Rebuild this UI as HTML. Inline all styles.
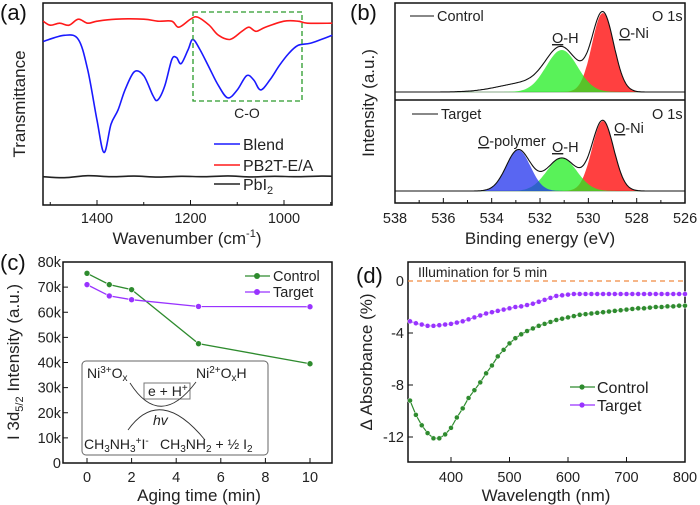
<!DOCTYPE html>
<html><head><meta charset="utf-8"><style>
body{margin:0;background:#fff}
svg{display:block;font-family:"Liberation Sans",Arial,sans-serif}
.t{font-size:14.5px;fill:#222}
.s{font-size:14px;fill:#222}
.g{font-size:16px;fill:#222}
.l{font-size:17px;fill:#222}
.p{font-size:22px;fill:#111}
</style></head><body>
<svg id="fig" width="700" height="505" viewBox="0 0 700 505" xmlns="http://www.w3.org/2000/svg">
<g id="ga"></g>
<g id="gb"></g>
<g id="gc"></g>
<g id="gd"></g>
</svg>
<script>
// ---- Panel (a) FTIR data ----
const blendWn = [1515,1470,1440,1420,1400,1385,1370,1355,1340,1320,1300,1280,1270,1255,1240,1230,1220,1205,1195,1180,1160,1140,1120,1100,1080,1065,1050,1030,1010,990,970,945,920,897];
const blendT  = [81,84,82,67,42,26,40,47,57,66,64,54,52,59,72,73,70,77,82,77,68,59,53,57,64,62,57,62,69,75,79,80,82,84];
const pbWn = [1515,1500,1480,1460,1440,1420,1400,1360,1300,1270,1240,1225,1200,1185,1160,1140,1115,1090,1075,1060,1040,1000,970,950,897];
const pbT  = [91,89,90,89,92,90,91,92,92,91,91,88,92,93,89,84,82,86,88,86,88,91,91,90,90];
const pbi2Wn = [1515,1470,1420,1370,1320,1270,1220,1170,1120,1070,1020,970,920,897];
const pbi2T  = [14,13.5,14.5,14,14.3,13.8,14.2,14,14.4,13.9,14.2,14,14.3,14.2];
const aTicks = [1400,1200,1000];
// ---- Panel (b) XPS peak fits ----
const ctrlCenters=[529.4,531.1,532.6], ctrlHeights=[79,42,9], ctrlSigmas=[0.45,0.65,1.1];
const tgtCenters=[529.4,531.1,532.9], tgtHeights=[70,33,41], tgtSigmas=[0.45,0.62,0.5];
const bTicks=[538,536,534,532,530,528,526];
// ---- Panel (c) ----
const cTime=[0,1,2,5,10];
const cControl=[75.5,71,69,47.5,39.5];
const cTarget=[71,66.5,65,62.3,62.2];
const cYTicks=[0,10,20,30,40,50,60,70,80];
const cXTicks=[0,2,4,6,8,10];
// ---- Panel (d) ----
const dWl=[330,340,350,360,370,380,390,400,410,420,430,440,450,460,470,480,490,500,510,520,530,540,550,560,570,580,590,600,610,620,630,640,650,660,670,680,690,700,710,720,730,740,750,760,770,780,790,800];
const dControl=[-9.2,-10.3,-11.1,-11.7,-12.1,-12.1,-11.8,-11.3,-10.5,-9.8,-9.0,-8.4,-7.8,-7.1,-6.5,-5.8,-5.3,-4.8,-4.4,-4.1,-3.85,-3.65,-3.45,-3.3,-3.15,-3.0,-2.9,-2.8,-2.7,-2.6,-2.55,-2.5,-2.45,-2.4,-2.35,-2.3,-2.25,-2.2,-2.15,-2.1,-2.1,-2.05,-2.0,-2.0,-1.95,-1.95,-1.9,-1.9];
const dTarget=[-3.1,-3.25,-3.35,-3.45,-3.45,-3.4,-3.35,-3.3,-3.2,-3.1,-2.95,-2.8,-2.65,-2.5,-2.4,-2.3,-2.2,-2.1,-2.0,-1.95,-1.85,-1.75,-1.6,-1.45,-1.3,-1.15,-1.1,-1.05,-1.0,-1.0,-1.0,-1.0,-1.0,-1.0,-1.0,-1.0,-1.0,-1.0,-1.0,-1.0,-1.0,-1.0,-1.0,-1.0,-1.0,-1.0,-1.0,-1.0];
const dYTicks=[0,-4,-8,-12];
const dXTicks=[400,500,600,700,800];

const NS="http://www.w3.org/2000/svg";
function mk(parent,tag,attrs,txt){const e=document.createElementNS(NS,tag);for(const k in attrs)e.setAttribute(k,attrs[k]);if(txt!==undefined)e.textContent=txt;parent.appendChild(e);return e;}
function smooth(pts){let d="M"+pts[0][0].toFixed(1)+","+pts[0][1].toFixed(1);for(let i=0;i<pts.length-1;i++){const p0=pts[i-1]||pts[i],p1=pts[i],p2=pts[i+1],p3=pts[i+2]||p2;const c1=[p1[0]+(p2[0]-p0[0])/6,p1[1]+(p2[1]-p0[1])/6],c2=[p2[0]-(p3[0]-p1[0])/6,p2[1]-(p3[1]-p1[1])/6];d+="C"+c1[0].toFixed(1)+","+c1[1].toFixed(1)+" "+c2[0].toFixed(1)+","+c2[1].toFixed(1)+" "+p2[0].toFixed(1)+","+p2[1].toFixed(1);}return d;}

// ===== Panel A =====
(function(){
const g=document.getElementById('ga');
const X0=43,X1=332,Y0=3,Y1=205;
const xs=w=>97+(1400-w)*0.4675, ys=v=>205-v*2.02;
let e;
e=mk(g,'rect',{x:X0,y:Y0,width:X1-X0,height:Y1-Y0,fill:'none',stroke:'#111','stroke-width':1.5});

aTicks.forEach(t=>{mk(g,'line',{x1:xs(t),x2:xs(t),y1:Y1,y2:Y1-5,stroke:'#111'});
e=mk(g,'text',{x:xs(t),y:223,'text-anchor':'middle',class:'t'},t);});
[1500,1300,1100,900].forEach(t=>mk(g,'line',{x1:xs(t),x2:xs(t),y1:Y1,y2:Y1-3,stroke:'#111'}));
const series=[[blendWn,blendT,'#1a1aff','blend-spectrum'],[pbWn,pbT,'#ff1a1a','pb2t-spectrum'],[pbi2Wn,pbi2T,'#222','pbi2-spectrum']];
series.forEach(s=>{e=mk(g,'path',{d:smooth(s[0].map((w,i)=>[xs(w),ys(s[1][i])])),fill:'none',stroke:s[2],'stroke-width':1.6});});
e=mk(g,'rect',{x:193,y:12,width:109,height:89,fill:'none',stroke:'#2a9a2a','stroke-width':1.3,'stroke-dasharray':'5,3'});
e=mk(g,'text',{x:247,y:118,'text-anchor':'middle',class:'s'},'C-O');
const leg=[['Blend','#1a1aff',144],['PB2T-E/A','#ff1a1a',165],['PbI',"#222",184]];
leg.forEach((l,i)=>{mk(g,'line',{x1:214,x2:240,y1:l[2],y2:l[2],stroke:l[1],'stroke-width':1.6});
e=mk(g,'text',{x:243,y:l[2]+6,class:'g'},l[0]);
if(i==2){mk(e,'tspan',{'font-size':'11','dy':'4'},'2');}});
e=mk(g,'text',{x:0,y:0,class:'l',transform:'translate(25,104) rotate(-90)','text-anchor':'middle'},'Transmittance');
e=mk(g,'text',{x:187,y:244,'text-anchor':'middle',class:'l'},'Wavenumber (cm');mk(e,'tspan',{'font-size':'11',dy:'-7'},'-1');mk(e,'tspan',{dy:'7'},')');

e=mk(g,'text',{x:0,y:20,class:'p'},'(a)');
})();

// ===== Panel B =====
(function(){
const g=document.getElementById('gb');
const X0=395,X1=685;
const xs=b=>395+(538-b)*24.17;
let e;
e=mk(g,'rect',{x:X0,y:3,width:X1-X0,height:200,fill:'none',stroke:'#111','stroke-width':1.5});
mk(g,'line',{x1:X0,x2:X1,y1:100,y2:100,stroke:'#111','stroke-width':1.5});
bTicks.forEach(t=>{mk(g,'line',{x1:xs(t),x2:xs(t),y1:203,y2:198,stroke:'#111'});
e=mk(g,'text',{x:xs(t),y:223,'text-anchor':'middle',class:'t'},t);});
[537,535,533,531,529,527].forEach(t=>mk(g,'line',{x1:xs(t),x2:xs(t),y1:203,y2:200,stroke:'#111'}));
const gauss=(b,c,h,s)=>h*Math.exp(-0.5*((b-c)/s)**2);
function draw(centers,heights,sigmas,base,colors,fillN,nm){
 mk(g,'line',{x1:X0,x2:X1,y1:base,y2:base,stroke:'#8a8',"stroke-width":1});
 for(let k=0;k<fillN;k++){const pts=[];for(let b=538;b>=526;b-=0.05)pts.push([xs(b),base-gauss(b,centers[k],heights[k],sigmas[k])]);
  e=mk(g,'path',{d:'M'+pts.map(p=>p[0].toFixed(1)+','+p[1].toFixed(1)).join('L')+'Z',fill:colors[k],'fill-opacity':0.75,stroke:'none'});
  }
 const env=[];for(let b=538;b>=526;b-=0.05){let s=0;for(let k=0;k<centers.length;k++)s+=gauss(b,centers[k],heights[k],sigmas[k]);env.push([xs(b),base-s]);}
 e=mk(g,'path',{d:'M'+env.map(p=>p[0].toFixed(1)+','+p[1].toFixed(1)).join('L'),fill:'none',stroke:'#111','stroke-width':1.1});
 
}
draw(ctrlCenters,ctrlHeights,ctrlSigmas,92,['#ff0000','#22ee22'],2,'control');
draw(tgtCenters,tgtHeights,tgtSigmas,191,['#ff0000','#22ee22','#2233ee'],3,'target');
mk(g,'line',{x1:410,x2:434,y1:16,y2:16,stroke:'#111'});mk(g,'line',{x1:412,x2:438,y1:114,y2:114,stroke:'#111'});
function ul(x,y,rest,nm){e=mk(g,'text',{x:x,y:y,class:'t'});mk(e,'tspan',{'text-decoration':'underline'},'O');mk(e,'tspan',{},rest);}
e=mk(g,'text',{x:437,y:21,class:'t'},'Control');
e=mk(g,'text',{x:441,y:119,class:'t'},'Target');
e=mk(g,'text',{x:652,y:21,class:'t'},'O 1s');
e=mk(g,'text',{x:652,y:119,class:'t'},'O 1s');
ul(552,43,'-H','oh-label');ul(619,38,'-Ni','oni-label');
ul(478,146,'-polymer','opolymer-label');ul(552,152,'-H','oh-label');ul(614,133,'-Ni','oni-label');
e=mk(g,'text',{x:0,y:0,class:'l',transform:'translate(374,103) rotate(-90)','text-anchor':'middle'},'Intensity (a.u.)');
e=mk(g,'text',{x:540,y:244,'text-anchor':'middle',class:'l'},'Binding energy (eV)');
e=mk(g,'text',{x:350,y:20,class:'p'},'(b)');
})();

// ===== Panel C =====
(function(){
const g=document.getElementById('gc');
const X0=63,X1=332,Y0=262,Y1=463;
const xs=t=>87+t*22.3, ys=v=>463-v*2.5125;
let e;
e=mk(g,'rect',{x:X0,y:Y0,width:X1-X0,height:Y1-Y0,fill:'none',stroke:'#111','stroke-width':1.5});
cYTicks.forEach(t=>{mk(g,'line',{x1:X0,x2:X0+5,y1:ys(t),y2:ys(t),stroke:'#111'});
e=mk(g,'text',{x:61,y:ys(t)+5,'text-anchor':'end',class:'t'},t===0?'0':t+'k');});
cXTicks.forEach(t=>{mk(g,'line',{x1:xs(t),x2:xs(t),y1:Y1,y2:Y1-5,stroke:'#111'});
e=mk(g,'text',{x:xs(t),y:482,'text-anchor':'middle',class:'t'},t);});
[[cControl,'#2e8b2e','control'],[cTarget,'#9933ff','target']].forEach(s=>{
 e=mk(g,'polyline',{points:cTime.map((t,i)=>xs(t)+','+ys(s[0][i])).join(' '),fill:'none',stroke:s[1],'stroke-width':1.3});
 cTime.forEach((t,i)=>{e=mk(g,'circle',{cx:xs(t),cy:ys(s[0][i]),r:3,fill:s[1],stroke:'#fff','stroke-width':0.6});});
});
[['Control','#2e8b2e',276],['Target','#9933ff',292]].forEach(l=>{mk(g,'line',{x1:245,x2:270,y1:l[2],y2:l[2],stroke:l[1],'stroke-width':1.3});mk(g,'circle',{cx:257,cy:l[2],r:3,fill:l[1]});
 e=mk(g,'text',{x:273,y:l[2]+5,class:'t'},l[0]);});
// inset
e=mk(g,'rect',{x:82,y:361,width:186,height:94,rx:4,fill:'#fff',stroke:'#666','stroke-width':1});
e=mk(g,'text',{x:87,y:378,class:'s'},'Ni');mk(e,'tspan',{'font-size':'10',dy:'-5'},'3+');mk(e,'tspan',{dy:'5'},'O');mk(e,'tspan',{'font-size':'10',dy:'3'},'x');
e=mk(g,'text',{x:196,y:378,class:'s'},'Ni');mk(e,'tspan',{'font-size':'10',dy:'-5'},'2+');mk(e,'tspan',{dy:'5'},'O');mk(e,'tspan',{'font-size':'10',dy:'3'},'x');mk(e,'tspan',{dy:'-3'},'H');
mk(g,'rect',{x:144,y:383,width:46,height:16,fill:'#fff',stroke:'#777'});
e=mk(g,'text',{x:148,y:396,class:'s'},'e + H');mk(e,'tspan',{'font-size':'10',dy:'-5'},'+');
mk(g,'path',{d:'M130,383 Q160,430 196,382',fill:'none',stroke:'#333','stroke-width':0.9});
mk(g,'path',{d:'M128,430 Q160,385 205,440',fill:'none',stroke:'#333','stroke-width':0.9});
e=mk(g,'text',{x:153,y:425,class:'s','font-style':'italic'},'hv');
e=mk(g,'text',{x:84,y:449,class:'s'},'CH');mk(e,'tspan',{'font-size':'10',dy:'3'},'3');mk(e,'tspan',{dy:'-3'},'NH');mk(e,'tspan',{'font-size':'10',dy:'3'},'3');mk(e,'tspan',{'font-size':'10',dy:'-8'},'+');mk(e,'tspan',{dy:'5'},'I');mk(e,'tspan',{'font-size':'10',dy:'-5'},'-');
e=mk(g,'text',{x:160,y:449,class:'s'},'CH');mk(e,'tspan',{'font-size':'10',dy:'3'},'3');mk(e,'tspan',{dy:'-3'},'NH');mk(e,'tspan',{'font-size':'10',dy:'3'},'2');mk(e,'tspan',{dy:'-3'},' + ½ I');mk(e,'tspan',{'font-size':'10',dy:'3'},'2');
e=mk(g,'text',{x:0,y:0,class:'l',transform:'translate(19,362) rotate(-90)','text-anchor':'middle'},'I 3d');mk(e,'tspan',{'font-size':'11',dy:'4'},'5/2');mk(e,'tspan',{dy:'-4'},' Intensity (a.u.)');
e=mk(g,'text',{x:199,y:501,'text-anchor':'middle',class:'l'},'Aging time (min)');
e=mk(g,'text',{x:0,y:270,class:'p'},'(c)');
})();

// ===== Panel D =====
(function(){
const g=document.getElementById('gd');
const X0=408,X1=685,Y0=262,Y1=462;
const xs=w=>451+(w-400)*0.585, ys=v=>281-v*13;
let e;
e=mk(g,'rect',{x:X0,y:Y0,width:X1-X0,height:Y1-Y0,fill:'none',stroke:'#111','stroke-width':1.5});
dYTicks.forEach(t=>{mk(g,'line',{x1:X0,x2:X0+5,y1:ys(t),y2:ys(t),stroke:'#111'});
e=mk(g,'text',{x:404,y:ys(t)+5,'text-anchor':'end',class:'t'},t);});
dXTicks.forEach(t=>{mk(g,'line',{x1:xs(t),x2:xs(t),y1:Y1,y2:Y1-5,stroke:'#111'});
e=mk(g,'text',{x:xs(t),y:482,'text-anchor':'middle',class:'t'},t);});
e=mk(g,'line',{x1:X0,x2:X1,y1:ys(0),y2:ys(0),stroke:'#f08a40','stroke-width':1.2,'stroke-dasharray':'5,4'});
e=mk(g,'text',{x:418,y:277,class:'s'},'Illumination for 5 min');
[[dControl,'#2e8b2e','control'],[dTarget,'#9933ff','target']].forEach(s=>{
 e=mk(g,'polyline',{points:dWl.map((w,i)=>xs(w)+','+ys(s[0][i])).join(' '),fill:'none',stroke:s[1],'stroke-width':1.2});
 dWl.forEach((w,i)=>{e=mk(g,'circle',{cx:xs(w),cy:ys(s[0][i]),r:2.5,fill:s[1],stroke:'#fff','stroke-width':0.5});});
});
[['Control','#2e8b2e',387],['Target','#9933ff',405]].forEach(l=>{mk(g,'line',{x1:570,x2:595,y1:l[2],y2:l[2],stroke:l[1],'stroke-width':1.3});mk(g,'circle',{cx:582,cy:l[2],r:2.6,fill:l[1]});
 e=mk(g,'text',{x:597,y:l[2]+6,class:'g'},l[0]);});
e=mk(g,'text',{x:0,y:0,class:'l',transform:'translate(372,362) rotate(-90)','text-anchor':'middle'},'Δ Absorbance (%)');
e=mk(g,'text',{x:546,y:501,'text-anchor':'middle',class:'l'},'Wavelength (nm)');
e=mk(g,'text',{x:356,y:283,class:'p'},'(d)');
})();
</script>
</body></html>
